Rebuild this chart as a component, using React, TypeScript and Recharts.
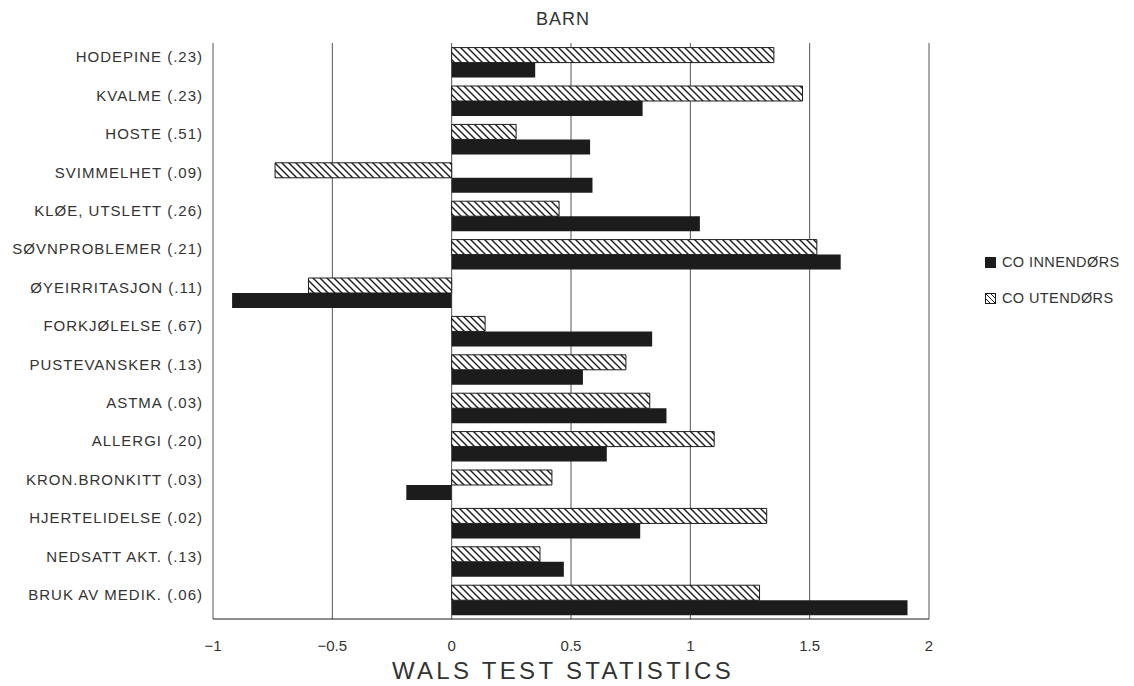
import { BarChart, Bar, XAxis, YAxis, CartesianGrid } from 'recharts';

const categories = [
  'HODEPINE (.23)',
  'KVALME (.23)',
  'HOSTE (.51)',
  'SVIMMELHET (.09)',
  'KLØE, UTSLETT (.26)',
  'SØVNPROBLEMER (.21)',
  'ØYEIRRITASJON (.11)',
  'FORKJØLELSE (.67)',
  'PUSTEVANSKER (.13)',
  'ASTMA (.03)',
  'ALLERGI (.20)',
  'KRON.BRONKITT (.03)',
  'HJERTELIDELSE (.02)',
  'NEDSATT AKT. (.13)',
  'BRUK AV MEDIK. (.06)',
];

// CO utendørs (hatched)
const utendors = [1.35, 1.47, 0.27, -0.74, 0.45, 1.53, -0.6, 0.14, 0.73, 0.83, 1.1, 0.42, 1.32, 0.37, 1.29];
// CO innendørs (solid)
const innendors = [0.35, 0.8, 0.58, 0.59, 1.04, 1.63, -0.92, 0.84, 0.55, 0.9, 0.65, -0.19, 0.79, 0.47, 1.91];

const xTicks = [-1, -0.5, 0, 0.5, 1, 1.5, 2];

const data = categories.map((name, i) => ({
  name,
  ute: utendors[i],
  inne: innendors[i],
}));

const FONT = '"Liberation Sans", Arial, sans-serif';
const INK = '#1c1c1c';

function CategoryTick(props: any) {
  const { x, y, payload } = props;
  return (
    <text
      x={x}
      y={y - 5}
      dy="0.35em"
      textAnchor="end"
      fontFamily={FONT}
      fontSize={15}
      letterSpacing={1}
      fill="#333"
    >
      {payload.value}
    </text>
  );
}

export default function App() {
  return (
    <div style={{ position: 'relative', width: 1126, height: 678, fontFamily: FONT, color: '#333' }}>
      <div
        style={{
          position: 'absolute',
          left: 0,
          top: 1,
          width: 1110,
          textAlign: 'center',
          fontSize: 18,
          lineHeight: '20px',
          letterSpacing: 1,
        }}
      >
        BARN
      </div>

      <BarChart
        width={1126}
        height={678}
        data={data}
        layout="vertical"
        margin={{ top: 35, right: 205, left: 0, bottom: 7 }}
        barCategoryGap="12%"
        barGap={0}
      >
        <defs>
          <pattern id="hatch" patternUnits="userSpaceOnUse" width="7" height="7">
            <rect width="7" height="7" fill="#fff" />
            <path d="M0,0 L7,7 M-2,5 L2,9 M5,-2 L9,2" stroke={INK} strokeWidth={1.4} />
          </pattern>
        </defs>
        <CartesianGrid horizontal={false} stroke="#555" strokeWidth={1} />
        <XAxis
          type="number"
          domain={[-1, 2]}
          ticks={xTicks}
          tickFormatter={(v) => String(v).replace('-', '−')}
          axisLine={{ stroke: INK }}
          tickLine={false}
          tickSize={0}
          tickMargin={21}
          height={60}
          tick={{ fontSize: 15, fill: '#333', fontFamily: FONT }}
          label={{
            value: 'WALS TEST STATISTICS',
            position: 'insideBottom',
            offset: 0,
            dx: -8,
            fontSize: 24,
            letterSpacing: 3.3,
            fill: '#333',
            fontFamily: FONT,
          }}
        />
        <YAxis
          type="category"
          dataKey="name"
          width={205}
          axisLine={false}
          tickLine={false}
          tickSize={0}
          tickMargin={10}
          interval={0}
          tick={<CategoryTick />}
        />
        <Bar dataKey="ute" name="CO UTENDØRS" fill="url(#hatch)" stroke={INK} strokeWidth={1} isAnimationActive={false} />
        <Bar dataKey="inne" name="CO INNENDØRS" fill={INK} isAnimationActive={false} />
      </BarChart>

      <div style={{ position: 'absolute', left: 977, top: 245, fontSize: 14.5, letterSpacing: 0.4, lineHeight: '18px', whiteSpace: 'nowrap' }}>
        <div style={{ display: 'flex', alignItems: 'center', height: 18 }}>
          <svg width={11} height={11} style={{ marginRight: 6 }}>
            <rect x={0} y={0} width={11} height={11} fill={INK} />
          </svg>
          CO INNENDØRS
        </div>
        <div style={{ display: 'flex', alignItems: 'center', height: 18, marginTop: 18 }}>
          <svg width={11} height={11} style={{ marginRight: 6 }}>
            <rect x={0.5} y={0.5} width={10} height={10} fill="#fff" stroke={INK} strokeWidth={1} />
            <path d="M0.5,0.5 L10.5,10.5 M0.5,5.5 L5.5,10.5 M5.5,0.5 L10.5,5.5" stroke={INK} strokeWidth={1} />
          </svg>
          CO UTENDØRS
        </div>
      </div>
    </div>
  );
}
